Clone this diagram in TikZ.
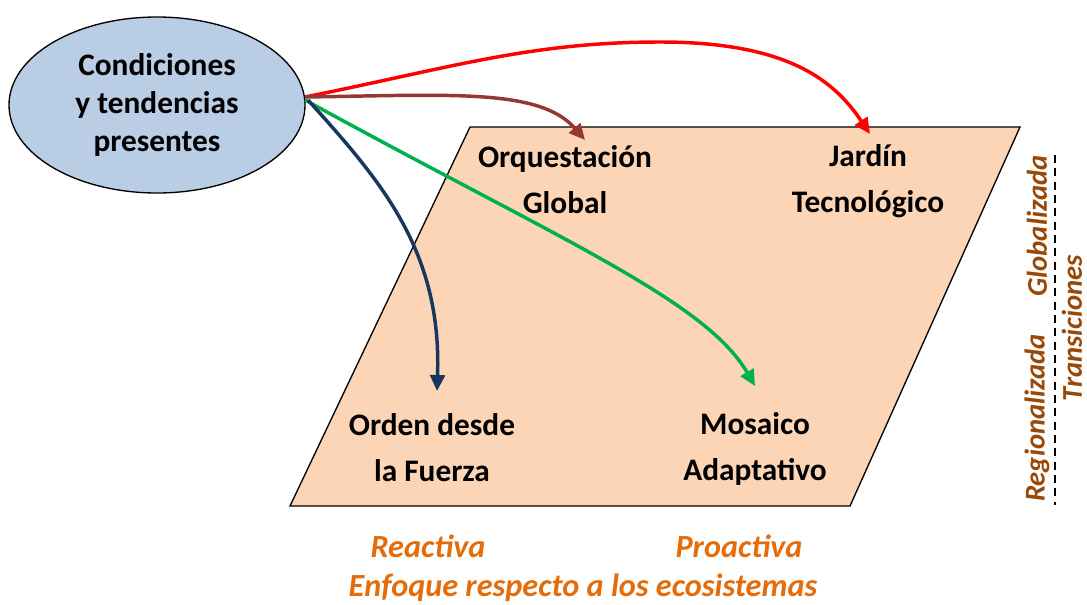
\documentclass[tikz,border=0pt]{standalone}
\usepackage{fontspec}
\setmainfont{Carlito}
\usetikzlibrary{shapes.geometric,arrows.meta}
\definecolor{peach}{HTML}{FBD5B5}
\definecolor{ellblue}{HTML}{B9CDE5}
\definecolor{brownt}{HTML}{984807}
\definecolor{orng}{HTML}{E46C0A}
\definecolor{arrbrown}{HTML}{953735}
\definecolor{navy}{HTML}{17375E}
\definecolor{grn}{HTML}{00B050}
\begin{document}
\begin{tikzpicture}[x=0.75pt,y=-0.75pt,
  lbl/.style={font=\fontsize{23.5}{34.5}\selectfont\bfseries, align=center, text=black},
  axislbl/.style={font=\fontsize{21.5}{26}\selectfont\bfseries\itshape, text=brownt, rotate=90, inner sep=0.5pt},
  botlbl/.style={font=\fontsize{24.2}{28}\selectfont\bfseries\itshape, text=orng},
  conn/.style={line width=2.6pt, -{Triangle[length=12pt,width=11pt]}}]
\useasboundingbox (0,0) rectangle (1087,604);
% parallelogram
\draw[fill=peach, line width=1pt] (470,127) coordinate (p1) -- (1020,127) coordinate (p2) -- (850,506) coordinate (p3) -- (290,506) coordinate (p4) -- cycle;
% ellipse
\node[ellipse, draw, line width=1pt, fill=ellblue, minimum width=222pt, minimum height=132pt, inner sep=0pt,
  font=\fontsize{23.5}{28.5}\selectfont\bfseries, align=center] (cond) at (157,105) {Condiciones\\y tendencias\\presentes};
% quadrant labels
\node[lbl] (og) at (565,180) {Orquestación\\Global};
\node[lbl] (jt) at (868,181) {Jardín\\Tecnológico};
\node[lbl] (of) at (432,448) {Orden desde\\la Fuerza};
\node[lbl] (ma) at (755,449) {Mosaico\\Adaptativo};
% arrow targets
\coordinate (tog) at (585,140);
\coordinate (tjt) at (870,134);
\coordinate (tof) at (437,391);
\coordinate (tma) at (755,386);
\coordinate (s) at (305,97);
% connectors
\draw[conn, red] (s) .. controls (450,68) and (530,42) .. (660,42) .. controls (790,42) and (835,82) .. (tjt);
\draw[conn, arrbrown] (s) .. controls (450,95) and (540,88) .. (tog);
\draw[conn, grn] (305,100) .. controls (560,240) and (705,300) .. (tma);
\draw[conn, navy] (308,100) .. controls (380,180) and (442,250) .. (tof);
% right axis labels
\node[axislbl] (glob) at (1037,226) {Globalizada};
\node[axislbl] (reg) at (1037,418) {Regionalizada};
\node[axislbl] (tra) at (1072,328) {Transiciones};
\coordinate (dtop) at (1055,155);
\coordinate (dbot) at (1055,505);
\draw[line width=2pt, dash pattern=on 6pt off 4pt] (dtop) -- (dbot);
% bottom labels
\node[botlbl] (rea) at (428,546) {Reactiva};
\node[botlbl] (pro) at (739,546) {Proactiva};
\node[botlbl] (enf) at (583,588) {Enfoque respecto a los ecosistemas};
\end{tikzpicture}
\end{document}
